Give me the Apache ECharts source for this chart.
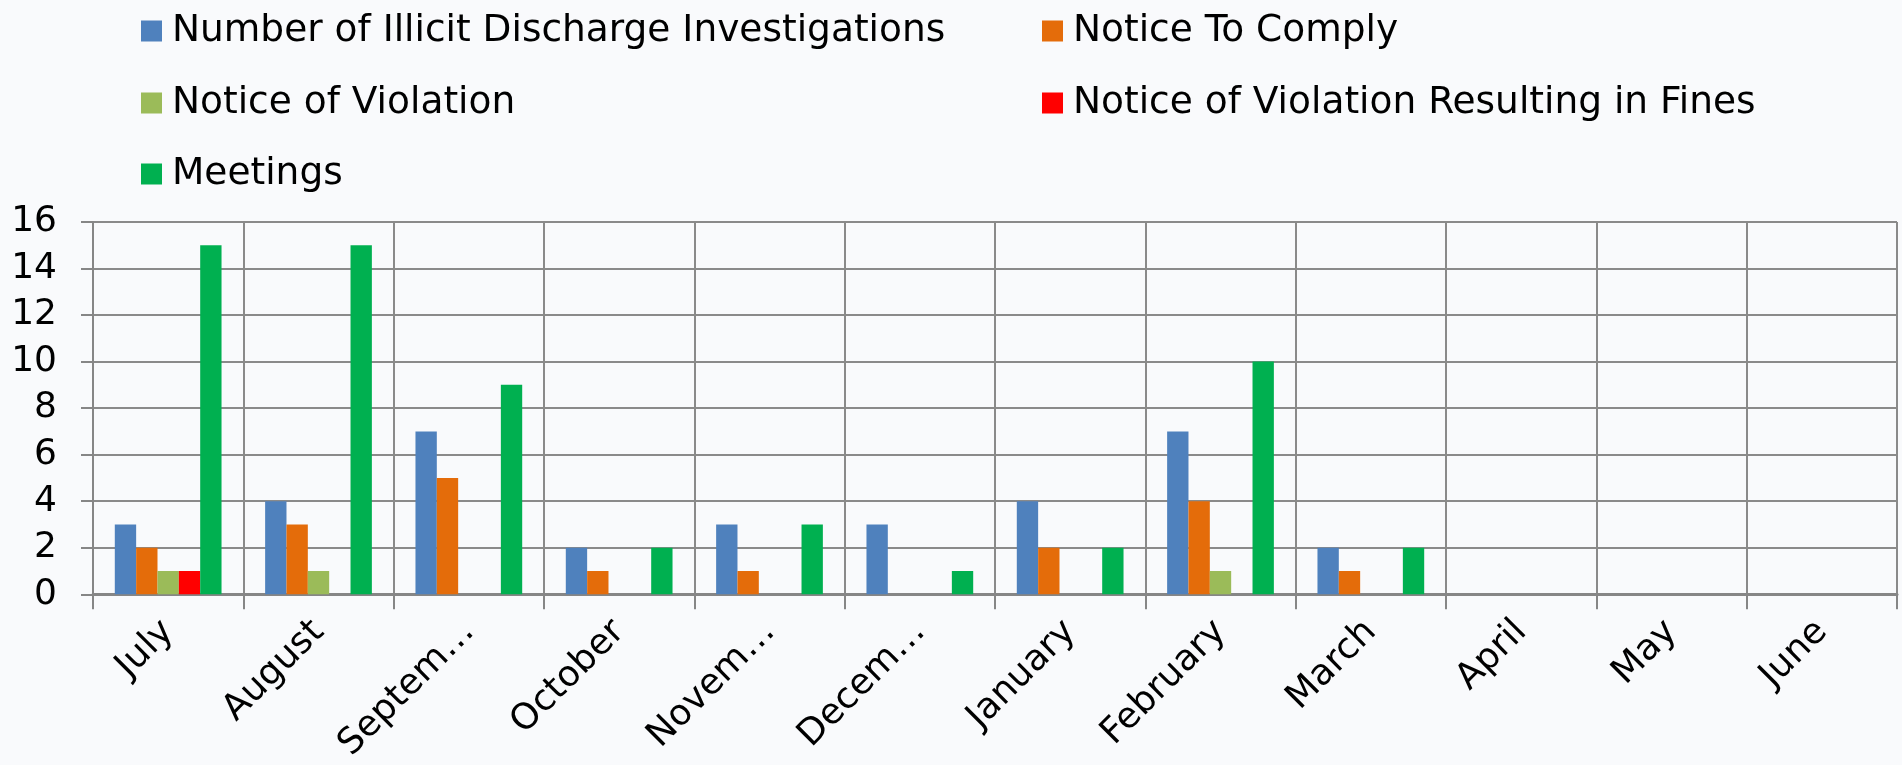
<!DOCTYPE html>
<html>
<head>
<meta charset="utf-8">
<script src="https://cdn.jsdelivr.net/npm/echarts@6/dist/echarts.min.js"></script>
<style>
  html, body { margin: 0; padding: 0; background: #f9fafc; }
  #chart { width: 1902px; height: 765px; }
</style>
</head>
<body>
<div id="chart"></div>
<script>
  // month labels as shown on the axis
  const months = ['July', 'August', 'Septem…', 'October', 'Novem…', 'Decem…',
                  'January', 'February', 'March', 'April', 'May', 'June'];

  const investigations = [3, 4, 7, 2, 3, 3, 4, 7, 2, null, null, null];
  const noticeToComply = [2, 3, 5, 1, 1, 0, 2, 4, 1, null, null, null];
  const noticeOfViolation = [1, 1, 0, 0, 0, 0, 0, 1, 0, null, null, null];
  const violationFines = [1, 0, 0, 0, 0, 0, 0, 0, 0, null, null, null];
  const meetings = [15, 15, 9, 2, 3, 1, 2, 10, 2, null, null, null];

  const yTicks = [0, 2, 4, 6, 8, 10, 12, 14, 16];

  const seriesNames = [
    'Number of Illicit Discharge Investigations',
    'Notice To Comply',
    'Notice of Violation',
    'Notice of Violation Resulting in Fines',
    'Meetings'
  ];
  const colors = ['#4f81bd', '#e46c0a', '#9bbb59', '#ff0000', '#00b050'];
  const values = [investigations, noticeToComply, noticeOfViolation, violationFines, meetings];

  const font = 'DejaVu Sans';
  const fs = 36;

  // legend placement (two columns, three rows)
  const legendPos = [
    { left: 136, top: 7 },
    { left: 1037, top: 7 },
    { left: 136, top: 79 },
    { left: 1037, top: 79 },
    { left: 136, top: 150 }
  ];

  const chart = echarts.init(document.getElementById('chart'));
  chart.setOption({
    backgroundColor: '#f9fafc',
    animation: false,
    legend: seriesNames.map((n, i) => ({
      data: [n],
      left: legendPos[i].left,
      top: legendPos[i].top,
      icon: 'rect',
      itemWidth: 21,
      itemHeight: 21,
      selectedMode: false,
      textStyle: { fontFamily: font, fontSize: 37.5, color: '#000', padding: [0, 0, 0, 5] }
    })),
    grid: { left: 93, top: 222, right: 5, bottom: 168 },
    xAxis: {
      type: 'category',
      data: months,
      axisLine: { lineStyle: { color: '#868686', width: 3 } },
      axisTick: { show: true, length: 15, lineStyle: { color: '#868686', width: 2 } },
      splitLine: { show: true, lineStyle: { color: '#8a8a8a', width: 2 } },
      axisLabel: {
        rotate: 45,
        margin: 32,
        interval: 0,
        fontFamily: font,
        fontSize: fs,
        color: '#000'
      }
    },
    yAxis: {
      type: 'value',
      min: yTicks[0],
      max: yTicks[yTicks.length - 1],
      interval: 2,
      axisLine: { show: true, lineStyle: { color: '#868686', width: 2 } },
      axisTick: { show: true, length: 12, lineStyle: { color: '#868686', width: 2 } },
      splitLine: { show: true, lineStyle: { color: '#8a8a8a', width: 2 } },
      axisLabel: {
        margin: 36,
        fontFamily: font,
        fontSize: fs,
        color: '#000'
      }
    },
    series: seriesNames.map((n, i) => ({
      name: n,
      type: 'bar',
      data: values[i],
      itemStyle: { color: colors[i] },
      barGap: 0,
      barCategoryGap: '29%'
    }))
  });
</script>
</body>
</html>
